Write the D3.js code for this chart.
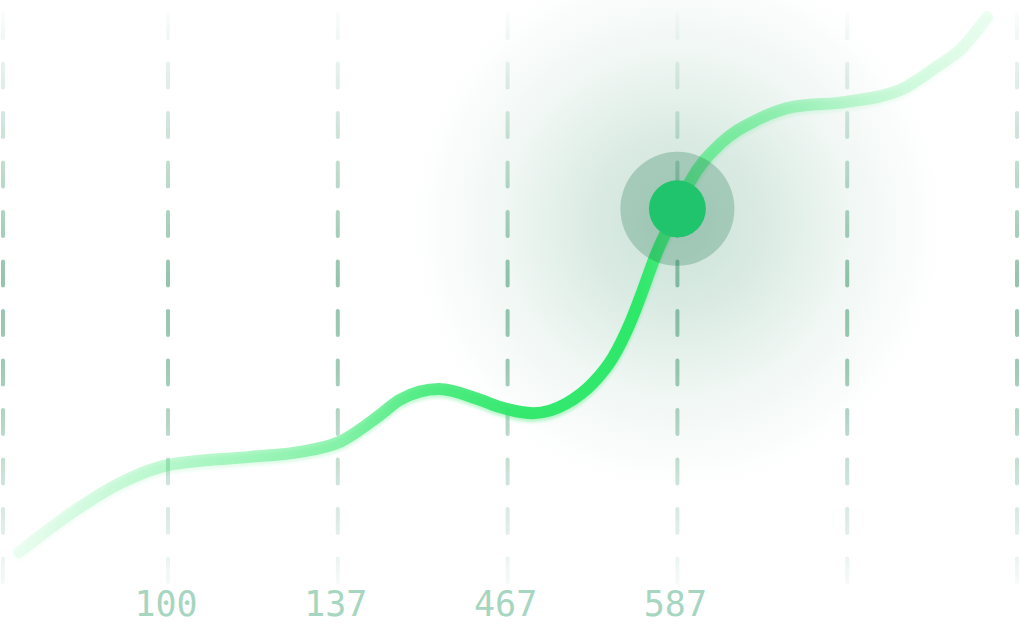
<!DOCTYPE html>
<html>
<head>
<meta charset="utf-8">
<script src="https://cdn.jsdelivr.net/npm/d3@7"></script>
<style>
  html, body { margin: 0; padding: 0; background: #ffffff; }
  #chart { width: 1020px; height: 630px; }
</style>
</head>
<body>
<div id="chart"></div>
<script>
// grid columns and their tick labels (empty = no label)
const columns = [0, 1, 2, 3, 4, 5, 6]
const tickLabels = ["", "100", "137", "467", "587", "", ""]

// line series, x in column units, y as value 0..100
const seriesX = [0.097, 0.467, 0.709, 1.0, 1.483, 1.777, 2.013, 2.249, 2.366, 2.596, 2.837, 2.955, 3.15, 3.35, 3.503, 3.621, 3.721, 3.797, 3.868, 4.0, 4.074, 4.257, 4.469, 4.681, 4.993, 5.311, 5.523, 5.665, 5.824]
const seriesY = [3.2, 11.25, 15.5, 18.75, 20.2, 21.1, 22.9, 27.7, 30.4, 32.3, 30.4, 29.1, 28.0, 29.8, 33.4, 38.0, 44.1, 50.0, 55.9, 64.5, 69.3, 76.25, 80.4, 82.7, 83.6, 85.7, 89.8, 92.9, 98.75]

// highlighted point
const markerX = 4
const markerY = 64.5

const width = 1020
const height = 630

const svg = d3.select("#chart")
  .append("svg")
  .attr("width", width)
  .attr("height", height)

const x = d3.scaleLinear().domain([0, 1, 6]).range([3, 168, 1017])
const y = d3.scaleLinear().domain([0, 100]).range([570, 10])

const defs = svg.append("defs")

// soft glow behind the marker
const glow = defs.append("radialGradient")
  .attr("id", "glow")
  .attr("gradientUnits", "userSpaceOnUse")
  .attr("cx", x(markerX)).attr("cy", y(markerY) + 15)
  .attr("r", 265)
glow.selectAll("stop")
  .data([[0, 0.24], [0.3, 0.18], [0.65, 0.07], [1, 0]])
  .enter().append("stop")
  .attr("offset", d => d[0])
  .attr("stop-color", "#2a8a5e")
  .attr("stop-opacity", d => d[1])

// vertical fade of the grid lines
const gridGrad = defs.append("linearGradient")
  .attr("id", "gridGrad")
  .attr("gradientUnits", "userSpaceOnUse")
  .attr("x1", 0).attr("x2", 0)
  .attr("y1", 12).attr("y2", 606)
gridGrad.selectAll("stop")
  .data([[0, 0.02], [0.45, 0.5], [0.6, 0.45], [1, 0.0]])
  .enter().append("stop")
  .attr("offset", d => d[0])
  .attr("stop-color", "#2a8a5e")
  .attr("stop-opacity", d => d[1])

// horizontal fade of the line
const x0 = x(seriesX[0]), x1 = x(seriesX[seriesX.length - 1])
const lineGrad = defs.append("linearGradient")
  .attr("id", "lineGrad")
  .attr("gradientUnits", "userSpaceOnUse")
  .attr("x1", x0).attr("x2", x1)
  .attr("y1", 0).attr("y2", 0)
lineGrad.selectAll("stop")
  .data([[0, 0.08], [0.154, 0.28], [0.33, 0.5], [0.414, 0.75], [0.517, 0.95], [0.64, 1], [0.70, 0.55], [0.856, 0.26], [1, 0.08]])
  .enter().append("stop")
  .attr("offset", d => d[0])
  .attr("stop-color", "#2ee86a")
  .attr("stop-opacity", d => d[1])

const shadow = defs.append("filter")
  .attr("id", "shadow")
  .attr("x", "-10%").attr("y", "-10%")
  .attr("width", "120%").attr("height", "120%")
shadow.append("feGaussianBlur").attr("stdDeviation", 1.5)

// glow
svg.append("rect")
  .attr("width", width)
  .attr("height", height)
  .attr("fill", "url(#glow)")

// dashed grid
svg.append("g")
  .selectAll("line")
  .data(columns)
  .enter()
  .append("line")
    .attr("x1", d => x(d))
    .attr("x2", d => x(d))
    .attr("y1", 14)
    .attr("y2", 606)
    .attr("stroke", "url(#gridGrad)")
    .attr("stroke-width", 4)
    .attr("stroke-linecap", "round")
    .attr("stroke-dasharray", "24 25.5")

// tick labels
svg.append("g")
  .selectAll("text")
  .data(columns.filter(d => tickLabels[d] !== ""))
  .enter()
  .append("text")
    .attr("x", d => x(d) - 2)
    .attr("y", 616)
    .attr("text-anchor", "middle")
    .style("font-family", "'DejaVu Sans Mono', monospace")
    .style("font-size", "35px")
    .style("fill", "#a6d6bf")
    .text(d => tickLabels[d])

// the line
const points = seriesX.map((d, i) => [d, seriesY[i]])
const line = d3.line()
  .curve(d3.curveMonotoneX)
  .x(d => x(d[0]))
  .y(d => y(d[1]))

svg.append("path")
  .datum(points)
  .attr("fill", "none")
  .attr("stroke", "url(#lineGrad)")
  .attr("stroke-width", 12)
  .attr("stroke-linecap", "round")
  .attr("opacity", 0.35)
  .attr("transform", "translate(0,3)")
  .attr("filter", "url(#shadow)")
  .attr("d", line)

svg.append("path")
  .datum(points)
  .attr("fill", "none")
  .attr("stroke", "url(#lineGrad)")
  .attr("stroke-width", 12)
  .attr("stroke-linecap", "round")
  .attr("d", line)

// marker
svg.append("circle")
  .attr("cx", x(markerX))
  .attr("cy", y(markerY))
  .attr("r", 57)
  .attr("fill", "rgba(20,110,70,0.25)")

svg.append("circle")
  .attr("cx", x(markerX))
  .attr("cy", y(markerY))
  .attr("r", 28.5)
  .attr("fill", "#20c46c")
</script>
</body>
</html>
